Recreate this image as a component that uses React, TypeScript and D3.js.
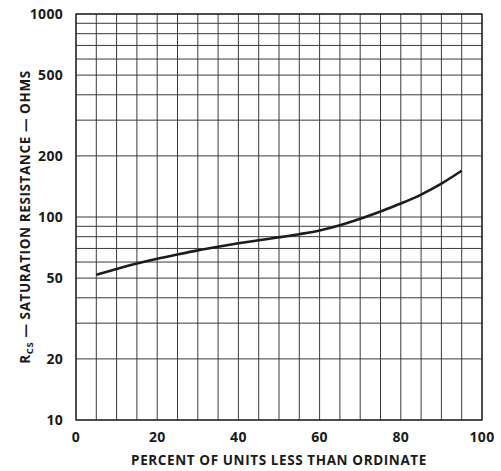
import React from "react";
import * as d3 from "d3";

const percentUnits = [5, 10, 15, 20, 25, 30, 35, 40, 45, 50, 55, 60, 65, 70, 75, 80, 85, 90, 95];
const resistanceOhms = [52, 55.5, 59, 62.3, 65.4, 68.5, 71.4, 74.2, 76.8, 79.4, 82.3, 85.8, 91, 98, 106.5, 116.5, 129, 146, 169];
const xTickLabels = [0, 20, 40, 60, 80, 100];
const yTickLabels = [10, 20, 50, 100, 200, 500, 1000];
const yGridValues = [10, 20, 30, 40, 50, 60, 70, 80, 90, 100, 200, 300, 400, 500, 600, 700, 800, 900, 1000];
const xGridValues = d3.range(0, 101, 5);

const W = 501;
const H = 471;
const L = 76, R = 482, T = 14, B = 420;

export default function App() {
  const x = d3.scaleLinear().domain([0, 100]).range([L, R]);
  const y = d3.scaleLog().domain([10, 1000]).range([B, T]);
  const line = d3
    .line<number>()
    .x((_, i) => x(percentUnits[i]))
    .y((d) => y(d))
    .curve(d3.curveMonotoneX);
  const font = "'Open Sans', 'DejaVu Sans', sans-serif";
  const gridColor = "#3a3a3a";
  return (
    <svg
      width={W}
      height={H}
      style={{ position: "absolute", left: 0, top: 0, background: "#fff" }}
    >
      <rect x={0} y={0} width={W} height={H} fill="#fff" />
      {yGridValues.map((v) => (
        <line key={"h" + v} x1={L} x2={R} y1={y(v)} y2={y(v)} stroke={gridColor} strokeWidth={1} />
      ))}
      {xGridValues.map((v) => (
        <line key={"v" + v} x1={x(v)} x2={x(v)} y1={T} y2={B} stroke={gridColor} strokeWidth={1} />
      ))}
      <rect x={L} y={T} width={R - L} height={B - T} fill="none" stroke="#222" strokeWidth={1.3} />
      <path d={line(resistanceOhms) || ""} fill="none" stroke="#1c1c1c" strokeWidth={2.6} strokeLinecap="butt" />
      {yTickLabels.map((v) => (
        <text
          key={"yl" + v}
          x={63}
          y={y(v)}
          dy="0.36em"
          textAnchor="end"
          fontFamily={font}
          fontWeight={700}
          fontSize={14}
          letterSpacing={0.3}
          fill="#1a1a1a"
        >
          {v}
        </text>
      ))}
      {xTickLabels.map((v) => (
        <text
          key={"xl" + v}
          x={x(v)}
          y={442}
          textAnchor="middle"
          fontFamily={font}
          fontWeight={700}
          fontSize={14}
          letterSpacing={0.3}
          fill="#1a1a1a"
        >
          {v}
        </text>
      ))}
      <text
        x={(L + R) / 2}
        y={465}
        textAnchor="middle"
        fontFamily={font}
        fontWeight={700}
        fontSize={13.5}
        letterSpacing={0.6}
        fill="#1a1a1a"
      >
        PERCENT OF UNITS LESS THAN ORDINATE
      </text>
      <text
        transform={`translate(30, 217) rotate(-90)`}
        textAnchor="middle"
        fontFamily={font}
        fontWeight={700}
        fontSize={13.5}
        letterSpacing={0.6}
        fill="#1a1a1a"
      >
        R<tspan fontSize={9.5} dy="3">CS</tspan>
        <tspan dy="-3"> — SATURATION RESISTANCE — OHMS</tspan>
      </text>
    </svg>
  );
}
